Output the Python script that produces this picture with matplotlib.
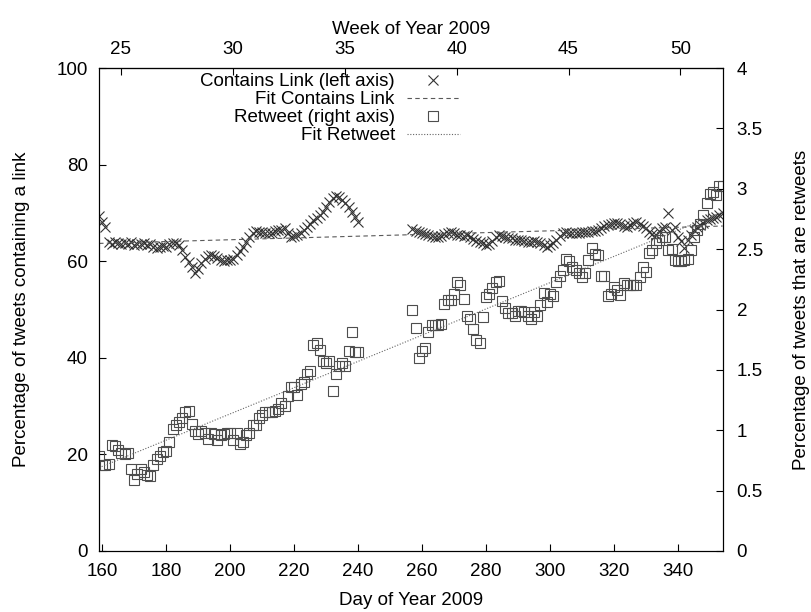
import numpy as np
import matplotlib
matplotlib.use('Agg')
import matplotlib.pyplot as plt

plt.rcParams['font.family'] = ['Liberation Sans', 'DejaVu Sans']
plt.rcParams['font.size'] = 13.5

# days with data (two runs, gap in the middle)
days_a = np.arange(159, 241)
days_b = np.arange(257, 355)

# percentage of tweets containing a link (left axis)
link_a = [69.3, 68.2, 67.1, 63.9, 63.6, 63.9, 63.7, 63.5, 63.8, 63.6, 63.9, 63.4, 63.6, 63.5,
          63.8, 63.3, 63.5, 63.0, 62.7, 62.9, 63.2, 63.0, 63.6, 63.8, 63.7, 63.4, 62.3, 60.9,
          59.9, 58.9, 57.5, 58.5, 59.6, 60.4, 61.0, 61.3, 61.1, 60.6, 60.2, 60.1, 60.2, 60.3,
          60.5, 61.3, 62.2, 63.0, 64.0, 65.1, 65.9, 66.3, 66.0, 66.1, 65.9, 65.8, 65.8, 66.3,
          66.4, 66.5, 66.8, 65.8, 65.1, 65.2, 65.5, 65.8, 66.5, 67.1, 67.8, 68.5, 68.9, 69.6,
          70.2, 71.3, 72.2, 73.0, 73.5, 73.4, 72.7, 72.0, 71.3, 70.2, 69.2, 68.2]
link_b = [66.6, 66.3, 66.0, 65.8, 65.6, 65.5, 65.3, 65.0, 65.0, 65.2, 65.6, 65.9, 66.0, 65.8,
          65.5, 65.4, 65.2, 65.4, 65.0, 64.6, 64.2, 64.0, 63.7, 63.4, 63.5, 64.2, 65.0, 65.4,
          65.3, 65.0, 64.8, 64.8, 64.5, 64.3, 64.3, 64.1, 64.0, 64.0, 64.1, 64.0, 63.8, 63.3,
          63.0, 63.3, 63.8, 64.5, 65.3, 65.8, 66.0, 65.9, 65.8, 65.9, 65.9, 66.0, 66.0, 66.1,
          66.2, 66.3, 66.5, 66.8, 67.2, 67.5, 67.8, 68.0, 67.9, 67.7, 67.3, 67.0, 67.6, 68.0,
          68.2, 67.8, 67.3, 66.8, 66.0, 65.7, 65.4, 66.2, 66.8, 67.1, 70.0, 66.4, 67.0, 65.0,
          64.2, 62.7, 64.5, 65.5, 66.4, 67.0, 67.5, 68.0, 68.5, 68.8, 69.0, 69.2, 69.5, 70.0]

# percentage of tweets that are retweets (right axis)
rt_a = [0.79, 0.71, 0.71, 0.72, 0.88, 0.87, 0.84, 0.81, 0.80, 0.81, 0.68, 0.59, 0.64, 0.675,
        0.655, 0.63, 0.625, 0.71, 0.76, 0.79, 0.82, 0.83, 0.90, 1.01, 1.04, 1.07, 1.10, 1.15,
        1.16, 1.05, 0.99, 0.97, 0.99, 0.975, 0.93, 0.975, 0.97, 0.92, 0.96, 0.965, 0.975, 0.975,
        0.92, 0.975, 0.89, 0.905, 0.96, 0.975, 1.04, 1.04, 1.10, 1.13, 1.15, 1.155, 1.155, 1.16,
        1.18, 1.23, 1.20, 1.28, 1.36, 1.36, 1.29, 1.38, 1.40, 1.47, 1.49, 1.71, 1.72, 1.665,
        1.57, 1.56, 1.57, 1.325, 1.47, 1.53, 1.56, 1.53, 1.656, 1.816, 1.65, 1.645]
rt_b = [2.00, 1.85, 1.60, 1.66, 1.68, 1.81, 1.87, 1.87, 1.875, 1.88, 2.05, 2.08, 2.08, 2.13,
        2.23, 2.20, 2.09, 1.95, 1.92, 1.84, 1.75, 1.72, 1.94, 2.10, 2.13, 2.18, 2.23, 2.24,
        2.07, 2.01, 1.97, 1.97, 1.95, 1.99, 1.99, 1.98, 1.95, 1.92, 1.98, 1.95, 2.04, 2.14,
        2.06, 2.13, 2.11, 2.225, 2.28, 2.33, 2.42, 2.40, 2.35, 2.33, 2.30, 2.27, 2.30, 2.41,
        2.51, 2.46, 2.45, 2.28, 2.28, 2.11, 2.13, 2.19, 2.16, 2.12, 2.22, 2.20, 2.20, 2.20,
        2.20, 2.27, 2.355, 2.31, 2.465, 2.49, 2.55, 2.575, 2.60, 2.60, 2.49, 2.50, 2.41, 2.40,
        2.40, 2.41, 2.42, 2.49, 2.60, 2.66, 2.71, 2.78, 2.88, 2.96, 2.975, 2.95, 3.02, 3.02]

# fitted lines (end points)
fit_days = [159, 354]
fit_link = [63.7, 67.3]
fit_rt = [0.69, 2.81]

days = np.concatenate([days_a, days_b])
link = link_a + link_b
rt = rt_a + rt_b

fig = plt.figure(figsize=(8.12, 6.12), dpi=100)
ax = fig.add_axes([0.122, 0.0997, 0.768, 0.789])
ax2 = ax.twinx()

h1, = ax.plot(days, link, ls='none', marker='x', ms=7, mew=0.8, color='0.2',
              label='Contains Link (left axis)')
h2, = ax.plot(fit_days, fit_link, ls=(0, (4, 3)), lw=0.8, color='0.35',
              label='Fit Contains Link')
h3, = ax2.plot(days, rt, ls='none', marker='s', ms=7, mew=0.8, mfc='none', mec='0.3',
               label='Retweet (right axis)')
h4, = ax2.plot(fit_days, fit_rt, ls=(0, (1, 1.5)), lw=0.8, color='0.4',
               label='Fit Retweet')

ax.set_xlim(159, 354)
ax.set_ylim(0, 100)
ax2.set_ylim(0, 4)
ax.set_xticks(np.arange(160, 341, 20))
ax.set_yticks(np.arange(0, 101, 20))
ax2.set_yticks([0, 0.5, 1, 1.5, 2, 2.5, 3, 3.5, 4])
ax2.set_yticklabels(['0', '0.5', '1', '1.5', '2', '2.5', '3', '3.5', '4'])

ax.tick_params(axis='x', direction='in', length=5, pad=9, top=False)
ax.tick_params(axis='y', direction='in', length=5, pad=8, right=False)
ax2.tick_params(axis='y', direction='in', length=5, pad=10)

top = ax.secondary_xaxis('top', functions=(lambda d: (d + 9.2) / 7.0,
                                           lambda w: w * 7.0 - 9.2))
top.set_xticks([25, 30, 35, 40, 45, 50])
top.tick_params(direction='in', length=5, pad=7)
top.set_xlabel('Week of Year 2009', labelpad=5)

ax.set_xlabel('Day of Year 2009', labelpad=8)
ax.set_ylabel('Percentage of tweets containing a link', labelpad=19)
ax2.set_ylabel('Percentage of tweets that are retweets', labelpad=22)

ax2.legend(handles=[h1, h2, h3, h4], loc='upper right', bbox_to_anchor=(0.578, 0.99),
           frameon=False, markerfirst=False, handlelength=2.8, handletextpad=0.65,
           labelspacing=0.05, borderpad=0, borderaxespad=0)

fig.savefig('out.png', dpi=100)
